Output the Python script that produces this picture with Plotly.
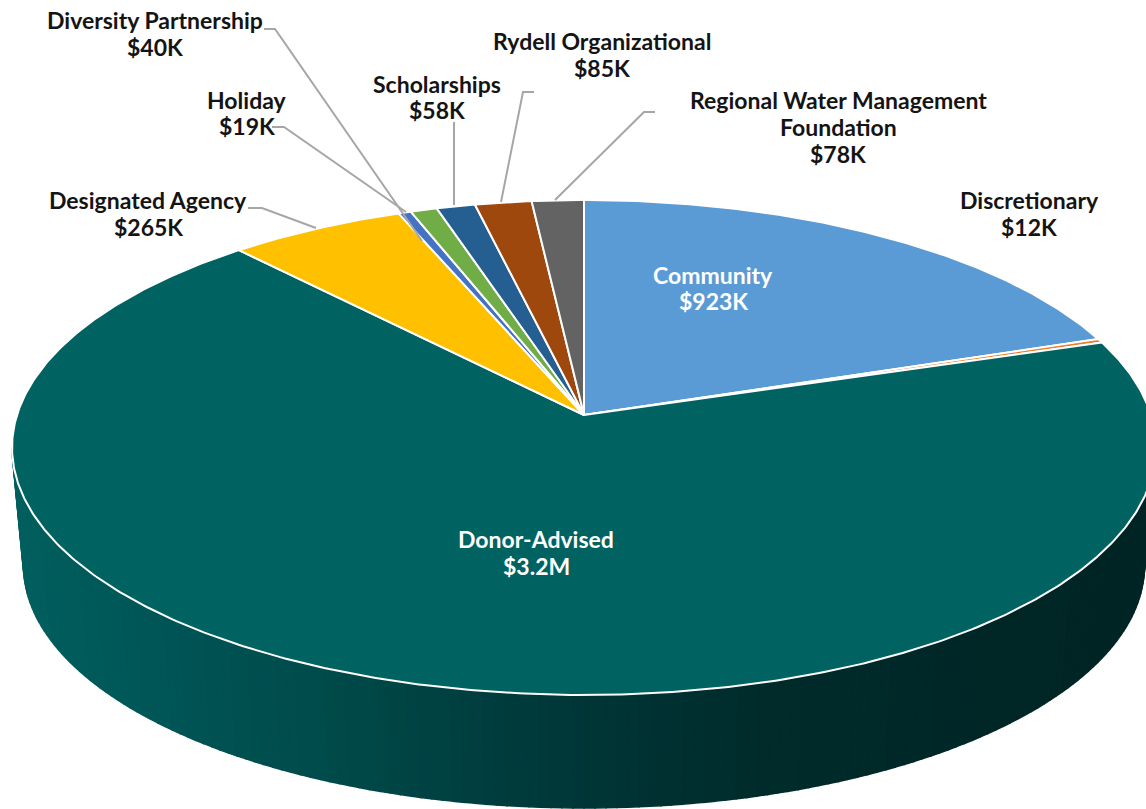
import numpy as np
import plotly.graph_objects as go

# ---- data ----
categories = ["Community", "Discretionary", "Donor-Advised", "Designated Agency", "Holiday",
              "Diversity Partnership", "Scholarships", "Rydell Organizational",
              "Regional Water Management<br>Foundation"]
values_k = [923, 12, 3200, 265, 19, 40, 58, 85, 78]
value_labels = ["$923K", "$12K", "$3.2M", "$265K", "$19K", "$40K", "$58K", "$85K", "$78K"]

# ---- style ----
slice_colors = ["#5B9BD5", "#ED7D31", "#006361", "#FFC000", "#4472C4",
                "#70AD47", "#255E91", "#9E480E", "#636363"]
label_colors = ["#FFFFFF", "#141414", "#FFFFFF"] + ["#141414"] * 6
label_centers_px = [(713, 288), (1029, 214), (536, 552), (148, 214), (247, 113),
                    (155, 34), (437, 97), (602, 54), (838, 127)]
LINE_STEP = 27
leaders_px = [
    [(248, 208), (262, 208), (316, 228)],
    [(272, 127), (284, 127), (406, 212)],
    [(264, 29), (275, 29), (422, 241)],
    [(454, 122), (454, 205)],
    [(534, 92), (523, 92), (501, 202)],
    [(655, 112), (644, 112), (555, 200)],
]
W, H = 1146, 809
APEX_X, APEX_Y = 584, 415      # pixel position of the pie's apex
K = 0.1313                     # perspective strength
SX, SY = 567.0, 243.2          # pixels per unit
DEPTH = 0.485                  # wall height in units
BASE_SCALE = 0.98              # lower rim relative to upper rim
wall_stops = [(0, "#00605F"), (.13, "#005556"), (.26, "#014C4C"), (.5, "#003637"),
              (.65, "#002C2C"), (.85, "#012727"), (1, "#012525")]


def project(theta):
    """Clockwise angle from the top of a unit circle -> tilted pie plane."""
    d = 1 + K * np.cos(theta)
    return np.sin(theta) / d, np.cos(theta) / d


def hex_rgb(h):
    return np.array([int(h[i:i + 2], 16) for i in (1, 3, 5)], float)


def wall_color(f):
    xs = [s[0] for s in wall_stops]
    rgb = [np.interp(f, xs, [hex_rgb(s[1])[c] for s in wall_stops]) for c in range(3)]
    return "rgb(%d,%d,%d)" % tuple(rgb)


fig = go.Figure()

# side wall: vertical strips between the rim of the top face and the rim of the base
rx = 1 / np.sqrt(1 - K ** 2)
ry = 1 / (1 - K ** 2)
yc = -K / (1 - K ** 2)
edges = np.linspace(np.pi, 0, 161)
for t0, t1 in zip(edges[:-1], edges[1:]):
    ts = np.array([t0, t1])
    top_x, top_y = rx * np.cos(ts), yc - ry * np.sin(ts)
    bot_x = BASE_SCALE * rx * np.cos(ts)
    bot_y = yc - DEPTH - BASE_SCALE * ry * np.sin(ts)
    color = wall_color((np.cos((t0 + t1) / 2) + 1) / 2)
    fig.add_trace(go.Scatter(
        x=[top_x[0], top_x[1], bot_x[1], bot_x[0], top_x[0]],
        y=[top_y[0], top_y[1], bot_y[1], bot_y[0], top_y[0]],
        mode="lines", fill="toself", fillcolor=color,
        line=dict(color=color, width=1.5), hoverinfo="skip", showlegend=False))

# top face slices, sized from the values
fractions = np.cumsum([0] + values_k) / sum(values_k)
for i, name in enumerate(categories):
    n = max(3, int(720 * (fractions[i + 1] - fractions[i])))
    thetas = 2 * np.pi * np.linspace(fractions[i], fractions[i + 1], n)
    px, py = project(thetas)
    fig.add_trace(go.Scatter(
        x=np.r_[0, px, 0], y=np.r_[0, py, 0],
        mode="lines", fill="toself", fillcolor=slice_colors[i],
        line=dict(color="white", width=2),
        name=name.replace("<br>", " "), text=value_labels[i], hoverinfo="name+text",
        showlegend=False))


def paper(p):
    return p[0] / W, 1 - p[1] / H


shapes = []
for pts in leaders_px:
    ps = [paper(p) for p in pts]
    path = "M " + " L ".join(f"{x:.5f},{y:.5f}" for x, y in ps)
    shapes.append(dict(type="path", xref="paper", yref="paper", path=path,
                       line=dict(color="#A6A6A6", width=2)))

annotations = []
for name, val, c, col in zip(categories, value_labels, label_centers_px, label_colors):
    lines = name.split("<br>") + [val]
    first = c[1] - LINE_STEP * (len(lines) - 1) / 2
    for j, line in enumerate(lines):
        x, y = paper((c[0], first + j * LINE_STEP))
        annotations.append(dict(xref="paper", yref="paper", x=x, y=y,
                                xanchor="center", yanchor="middle",
                                text=f"<b>{line}</b>", showarrow=False,
                                font=dict(family="Lato", size=23, color=col)))

fig.update_layout(
    width=W, height=H, margin=dict(l=0, r=0, t=0, b=0), autosize=False,
    paper_bgcolor="white", plot_bgcolor="white", showlegend=False,
    xaxis=dict(visible=False, range=[-APEX_X / SX, (W - APEX_X) / SX]),
    yaxis=dict(visible=False, range=[-(H - APEX_Y) / SY, APEX_Y / SY]),
    shapes=shapes, annotations=annotations)

fig.write_html("out.html", config={"displayModeBar": False},
               post_script="document.body.style.margin='0';document.body.style.overflow='hidden';")
